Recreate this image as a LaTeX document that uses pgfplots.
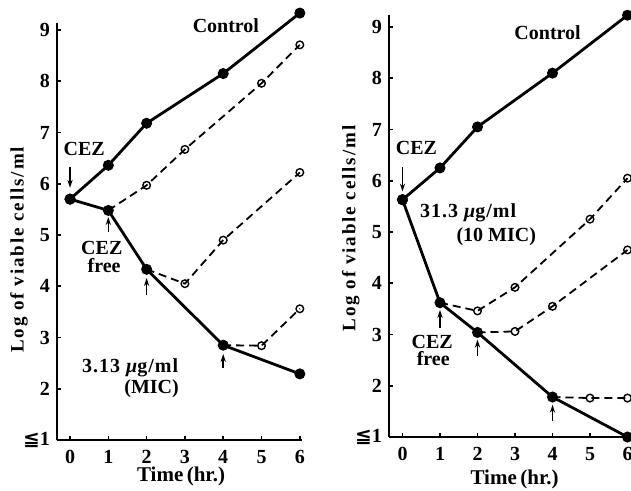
\documentclass[border=0pt]{standalone}
\usepackage{fontspec}
\setmainfont{Liberation Serif}
\newfontfamily\spaced[LetterSpace=10]{Liberation Serif}
\newfontfamily\spacedb[LetterSpace=5]{Liberation Serif}
\newfontfamily\sym{DejaVu Sans}
\usepackage{pgfplots}
\pgfplotsset{compat=1.18}
\usetikzlibrary{arrows.meta}
\pgfplotsset{
  panel/.style={
    axis lines=left, axis line style={-, line width=1pt},
    ymin=1, xtick={0,...,6}, ytick={1,...,9},
    yticklabels={{\sym\bfseries ≦}1,2,3,4,5,6,7,8,9},
    tick align=inside, major tick length=2pt, tick style={line width=0.8pt, black},
    ticklabel style={font=\fontsize{10}{12}\selectfont\bfseries},
    xticklabel style={yshift=-1.5pt},
    /pgf/number format/assume math mode=true,
    clip=false,
    ylabel={\spaced\bfseries\fontsize{9.5}{11}\selectfont Log of viable cells/ml},
    xlabel={\bfseries\fontsize{10.5}{12}\selectfont Time\,(hr.)},
  },
  ctrl/.style={black, line width=1.4pt, mark=*, mark size=2.5pt, mark options={line width=0.5pt}},
  regrow/.style={black, line width=0.9pt, dash pattern=on 4pt off 2.5pt, mark=o, mark size=1.9pt,
    mark options={solid, line width=0.7pt, fill=white}},
}
\tikzset{
  arr/.style={-{Stealth[length=4pt,width=2.6pt]}, line width=0.8pt},
  lab/.style={font=\bfseries\fontsize{10}{12}\selectfont, inner sep=0pt, anchor=center},
}
\begin{document}
\begin{tikzpicture}
\useasboundingbox (0,0) rectangle (315.5pt,-245.5pt);
\clip (0,0) rectangle (315.5pt,-245.5pt);
% ---------------- left panel ----------------
\begin{axis}[panel, at={(28.5pt,-220pt)}, anchor=south west,
  x=19.15pt, y=25.625pt, xmin=-0.34, xmax=6.05, ymax=9.14,
  xlabel style={at={(axis cs:2.9,0.28)}, anchor=center},
  ylabel style={at={(axis cs:-1.33,4.71)}, anchor=center}]
\addplot[regrow, mark indices={2,3,4,5}] coordinates {(1,5.48) (2,5.97) (3,6.67) (5,7.96) (6,8.71)};
\addplot[regrow, mark indices={2,3,4}] coordinates {(2,4.33) (3,4.05) (4,4.90) (6,6.22)};
\addplot[regrow, mark indices={2,3}] coordinates {(4,2.85) (5,2.84) (6,3.56)};
\addplot[ctrl] coordinates {(0,5.70) (1,6.36) (2,7.18) (4,8.15) (6,9.33)};
\addplot[ctrl] coordinates {(0,5.70) (1,5.48) (2,4.33) (4,2.85) (6,2.29)};
\draw[arr] (axis cs:0,6.33) -- (axis cs:0,5.92);
\draw[arr] (axis cs:1,5.06) -- (axis cs:1,5.35);
\draw[arr] (axis cs:2,3.83) -- (axis cs:2,4.16);
\draw[arr] (axis cs:4,2.40) -- (axis cs:4,2.68);
\node[lab] at (axis cs:4.07,9.08) {Control};
\node[lab] at (axis cs:0.37,6.67) {CEZ};
\node[lab] at (axis cs:0.83,4.74) {CEZ};
\node[lab] at (axis cs:0.89,4.40) {free};
\node[lab] at (axis cs:1.57,2.40) {\spacedb\bfseries 3.13 {\itshape μ}g/ml};
\node[lab] at (axis cs:2.13,2.01) {(MIC)};
\end{axis}
% ---------------- right panel ----------------
\begin{axis}[panel, at={(194.5pt,-218.5pt)}, anchor=south west,
  x=18.75pt, y=25.625pt, xmin=-0.36, xmax=6.1, ymax=9.23,
  xlabel style={at={(axis cs:2.99,0.17)}, anchor=center},
  ylabel style={at={(axis cs:-1.38,5.07)}, anchor=center}]
\addplot[regrow, mark indices={2,3,4,5}] coordinates {(1,3.62) (2,3.46) (3,3.92) (5,5.25) (6,6.05)};
\addplot[regrow, mark indices={2,3,4}] coordinates {(2,3.04) (3,3.06) (4,3.55) (6,4.65)};
\addplot[regrow, mark indices={2,3}] coordinates {(4,1.78) (5,1.76) (6,1.76)};
\addplot[ctrl] coordinates {(0,5.63) (1,6.25) (2,7.05) (4,8.10) (6,9.23)};
\addplot[ctrl] coordinates {(0,5.63) (1,3.62) (2,3.04) (4,1.78) (6,1.00)};
\draw[arr] (axis cs:0,6.27) -- (axis cs:0,5.79);
\draw[arr] (axis cs:1,3.12) -- (axis cs:1,3.48);
\draw[arr] (axis cs:2,2.58) -- (axis cs:2,2.90);
\draw[arr] (axis cs:4,1.31) -- (axis cs:4,1.63);
\node[lab] at (axis cs:3.87,8.89) {Control};
\node[lab] at (axis cs:0.37,6.63) {CEZ};
\node[lab] at (axis cs:0.79,2.86) {CEZ};
\node[lab] at (axis cs:0.82,2.53) {free};
\node[lab] at (axis cs:1.75,5.38) {\spacedb\bfseries 31.3 {\itshape μ}g/ml};
\node[lab] at (axis cs:2.50,4.90) {(10 MIC)};
\end{axis}
\end{tikzpicture}
\end{document}
